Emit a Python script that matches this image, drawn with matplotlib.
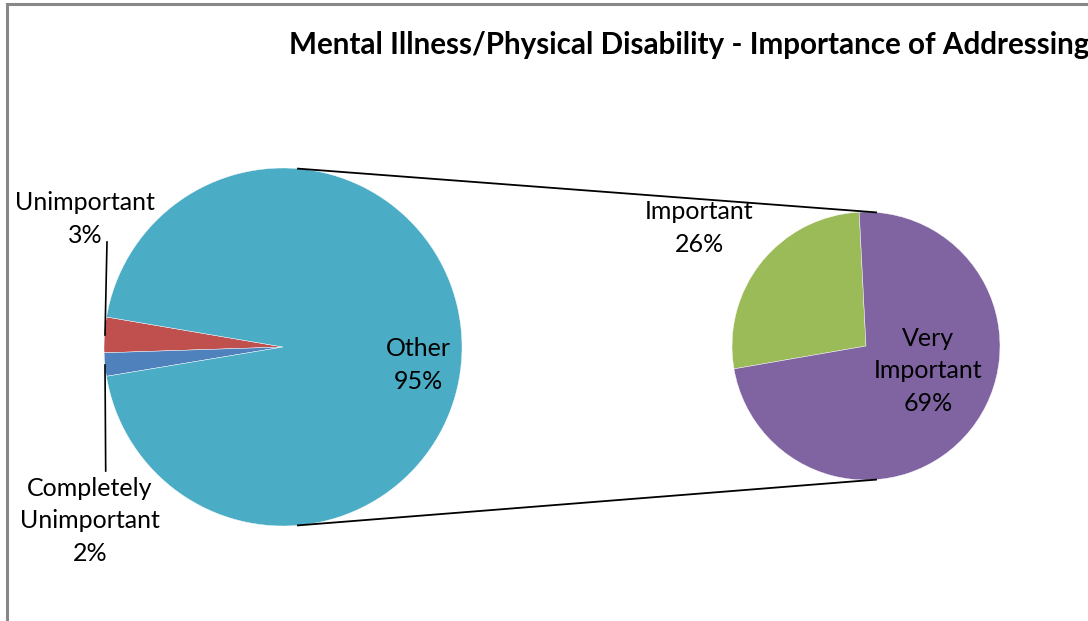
import numpy as np
import matplotlib
matplotlib.use("Agg")
import matplotlib.pyplot as plt

# data (percent of all responses)
main_labels = ["Unimportant", "Completely\nUnimportant", "Other"]
main_values = [3.2, 2.1, 94.7]
main_colors = ["#C0504D", "#4F81BD", "#4BACC6"]

sub_labels = ["Important", "Very\nImportant"]
sub_values = [25.5, 69.2]
sub_colors = ["#9BBB59", "#8064A2"]

title = "Mental Illness/Physical Disability - Importance of Addressing"

W, H = 1088, 621
plt.rcParams['font.family'] = ['Lato', 'DejaVu Sans']

fig = plt.figure(figsize=(W / 100, H / 100), dpi=100)
ax = fig.add_axes([0, 0, 1, 1])

def Y(y):
    # image row -> data y
    return H - y

# main pie
c1 = (283, Y(347))
r1 = 179
ax.pie(main_values, colors=main_colors, startangle=170.35, counterclock=True,
       center=c1, radius=r1, frame=True,
       wedgeprops=dict(edgecolor='white', linewidth=0.3))

# secondary pie
c2 = (866, Y(346))
r2 = 134
ax.pie(sub_values, colors=sub_colors, startangle=92.9, counterclock=True,
       center=c2, radius=r2, frame=True,
       wedgeprops=dict(edgecolor='white', linewidth=0.3))
ax.set_xlim(0, W)
ax.set_ylim(0, H)
ax.set_aspect('equal')
ax.axis('off')

# chart frame (left and top edges visible)
ax.plot([7, 7, W + 5], [-5, Y(4), Y(4)], color='#888888', linewidth=2.2,
        solid_joinstyle='miter')

ax.text(289, Y(45), title, fontsize=21.3, fontweight='bold',
        ha='left', va='center', color='black')

# connector lines between the pies
for a1, a2 in [(85.2, 85.7), (-85.2, -85.7)]:
    p1 = (c1[0] + r1 * np.cos(np.radians(a1)), c1[1] + r1 * np.sin(np.radians(a1)))
    p2 = (c2[0] + r2 * np.cos(np.radians(a2)), c2[1] + r2 * np.sin(np.radians(a2)))
    ax.plot([p1[0], p2[0]], [p1[1], p2[1]], color='black', linewidth=1.3)

fs = 18
ls = 1.5
def pct(v):
    return f"{v:.0f}%"

# labels
ax.text(85, Y(219), f"{main_labels[0]}\n{pct(main_values[0])}", fontsize=fs,
        ha='center', va='center', linespacing=ls)
ax.plot([107, 105], [Y(242), Y(335)], color='black', linewidth=1.2)
ax.text(90, Y(521), f"{main_labels[1]}\n{pct(main_values[1])}", fontsize=fs,
        ha='center', va='center', linespacing=ls)
ax.plot([105, 105.7], [Y(365), Y(471)], color='black', linewidth=1.2)
ax.text(418, Y(365), f"{main_labels[2]}\n{pct(main_values[2])}", fontsize=fs,
        ha='center', va='center', linespacing=ls)

ax.text(699, Y(228), f"{sub_labels[0]}\n{pct(sub_values[0])}", fontsize=fs,
        ha='center', va='center', linespacing=ls)
ax.text(928, Y(371), f"{sub_labels[1]}\n{pct(sub_values[1])}", fontsize=fs,
        ha='center', va='center', linespacing=ls)

fig.savefig("out.png", dpi=100)
